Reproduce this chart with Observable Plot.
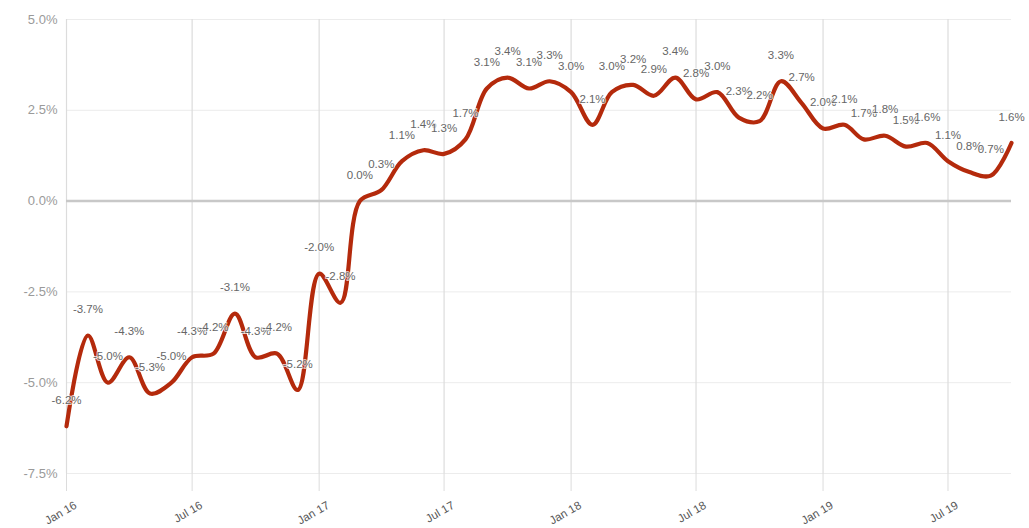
<!DOCTYPE html>
<html>
<head>
<meta charset="utf-8">
<script src="https://cdn.jsdelivr.net/npm/d3@7"></script>
<script src="https://cdn.jsdelivr.net/npm/@observablehq/plot@0.6"></script>
<style>
  html, body { margin: 0; padding: 0; background: #fff; }
  #chart svg { display: block; font-family: "Liberation Sans", Arial, sans-serif; }
</style>
</head>
<body>
<div id="chart"></div>
<script>
const months = [
  "2016-01","2016-02","2016-03","2016-04","2016-05","2016-06","2016-07","2016-08","2016-09","2016-10","2016-11","2016-12",
  "2017-01","2017-02","2017-03","2017-04","2017-05","2017-06","2017-07","2017-08","2017-09","2017-10","2017-11","2017-12",
  "2018-01","2018-02","2018-03","2018-04","2018-05","2018-06","2018-07","2018-08","2018-09","2018-10","2018-11","2018-12",
  "2019-01","2019-02","2019-03","2019-04","2019-05","2019-06","2019-07","2019-08","2019-09","2019-10"
];
const values = [
  -6.2, -3.7, -5.0, -4.3, -5.3, -5.0, -4.3, -4.2, -3.1, -4.3, -4.2, -5.2,
  -2.0, -2.8, 0.0, 0.3, 1.1, 1.4, 1.3, 1.7, 3.1, 3.4, 3.1, 3.3,
  3.0, 2.1, 3.0, 3.2, 2.9, 3.4, 2.8, 3.0, 2.3, 2.2, 3.3, 2.7,
  2.0, 2.1, 1.7, 1.8, 1.5, 1.6, 1.1, 0.8, 0.7, 1.6
];
const yTicks = [-7.5, -5.0, -2.5, 0.0, 2.5, 5.0];
const xTickMonths = ["2016-01","2016-07","2017-01","2017-07","2018-01","2018-07","2019-01","2019-07"];
const xTickLabels = ["Jan 16","Jul 16","Jan 17","Jul 17","Jan 18","Jul 18","Jan 19","Jul 19"];

const data = months.map((m, i) => ({date: new Date(m + "-01T00:00:00Z"), value: values[i]}));
const xTickData = xTickMonths.map((m, i) => ({date: new Date(m + "-01T00:00:00Z"), label: xTickLabels[i]}));
const xTicks = xTickData.map(d => d.date);

const chart = Plot.plot({
  width: 1029,
  height: 528,
  marginTop: 19,
  marginBottom: 55,
  marginLeft: 66,
  marginRight: 18,
  style: {fontFamily: "Liberation Sans, Arial, sans-serif", background: "#fff"},
  x: {type: "utc", domain: [data[0].date, data[data.length - 1].date], label: null},
  y: {domain: [-7.5, 5], label: null},
  marks: [
    Plot.ruleY(yTicks.filter(d => d !== 0), {stroke: "#ececec", strokeWidth: 1}),
    Plot.ruleX(xTicks, {y1: -7.5, y2: 5, stroke: "#dcdcdc", strokeWidth: 1.2}),
    Plot.ruleY([0], {stroke: "#c8c8c8", strokeWidth: 2.5}),
    Plot.axisY({ticks: yTicks, tickSize: 0, tickPadding: 9, fontSize: 13, color: "#9a9a9a", label: null,
      tickFormat: d => d.toFixed(1) + "%"}),
    Plot.axisX({ticks: xTicks, tickSize: 18, stroke: "#dcdcdc", label: null, tickFormat: () => ""}),
    Plot.text(xTickData, {x: "date", text: "label", frameAnchor: "bottom", dx: 7, dy: 27,
      rotate: -30, textAnchor: "end", lineAnchor: "top", fontSize: 11.5, fill: "#555"}),
    Plot.line(data, {x: "date", y: "value", stroke: "#b42a0c", strokeWidth: 4.2, curve: "catmull-rom"}),
    Plot.text(data, {x: "date", y: "value", text: d => d.value.toFixed(1) + "%", dy: -26,
      fontSize: 11.5, fill: "#666", stroke: "white", strokeWidth: 2, strokeOpacity: 0.7})
  ]
});
document.getElementById("chart").appendChild(chart);
</script>
</body>
</html>
